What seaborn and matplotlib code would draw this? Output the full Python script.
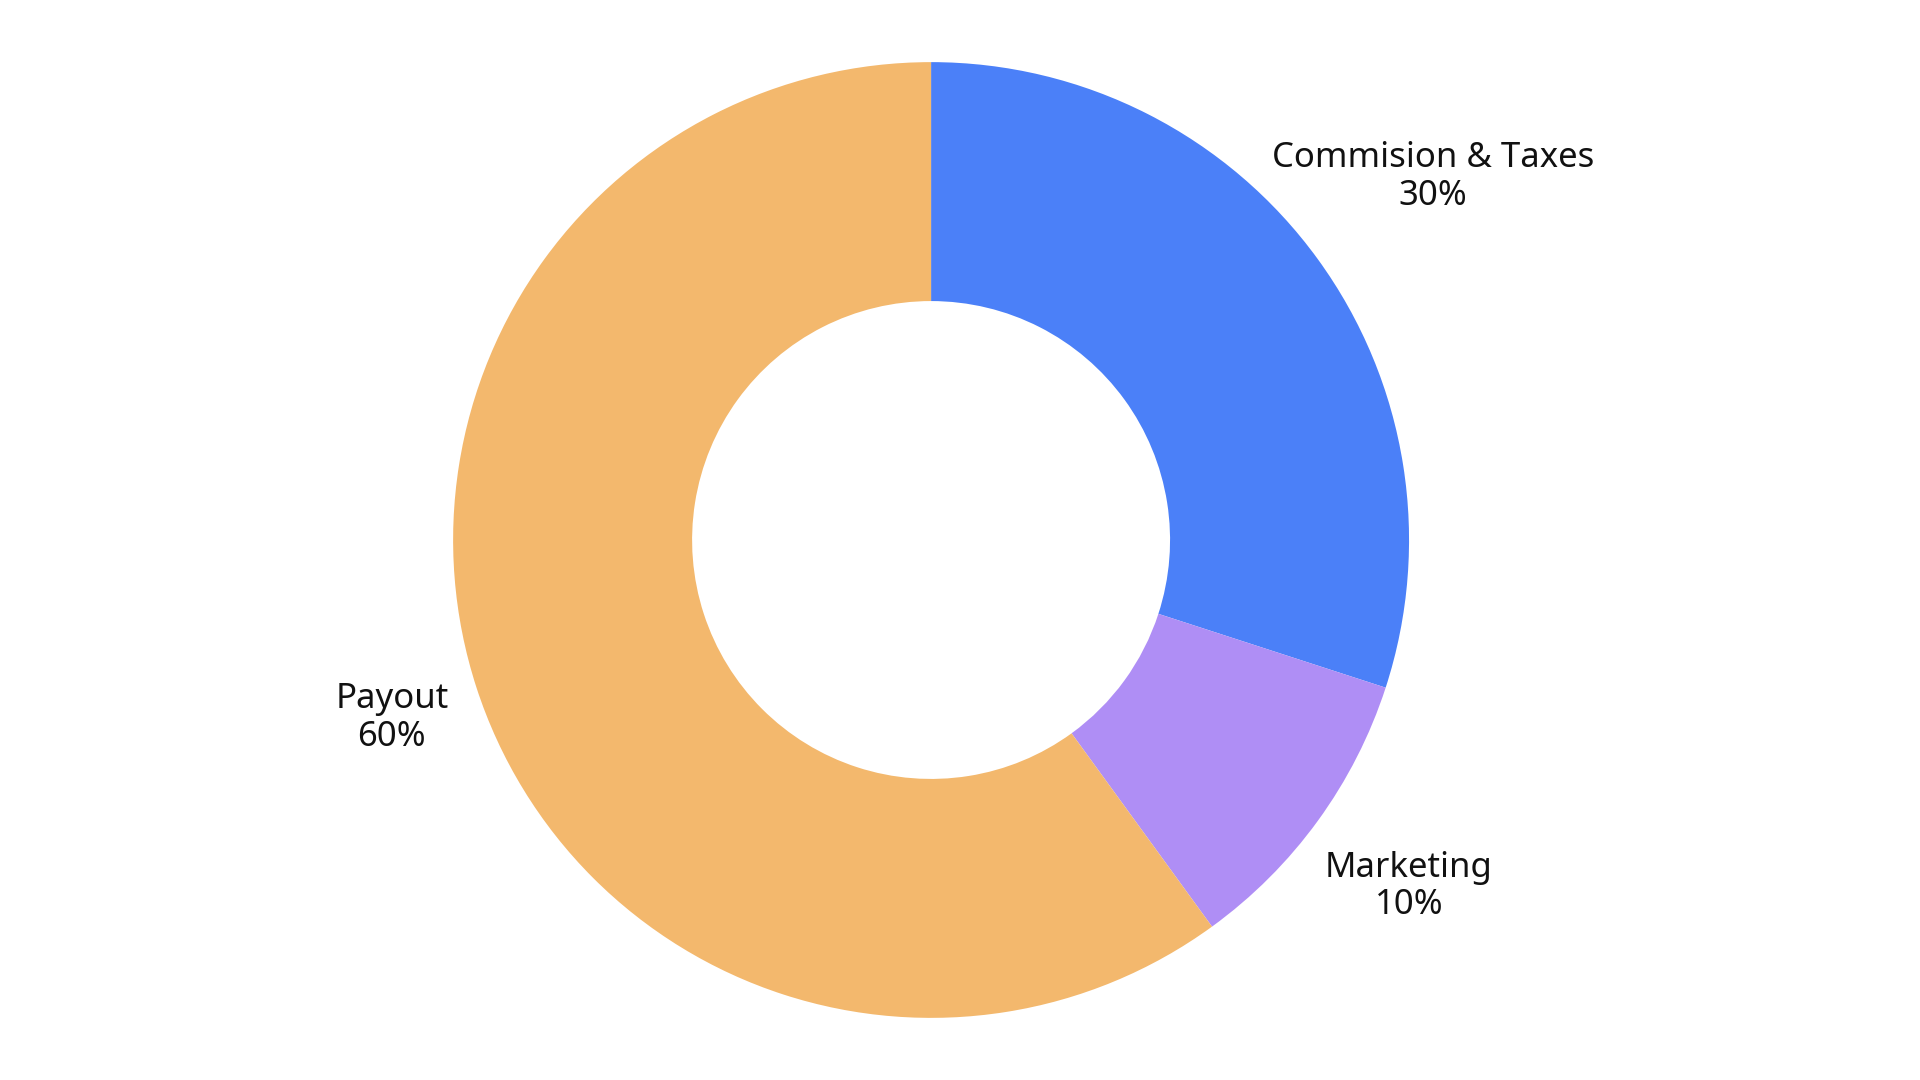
import matplotlib.pyplot as plt
import seaborn as sns

categories = ["Commision & Taxes", "Marketing", "Payout"]
shares = [30, 10, 60]
colors = ["#4B80F8", "#AF8EF5", "#F3B86D"]
# label anchor points, in units of the outer radius
label_pos = [(1.05, 0.76), (1.0, -0.725), (-1.128, -0.373)]

sns.set_theme(style="white")
plt.rcParams['font.family'] = ['Noto Sans', 'DejaVu Sans']

fig = plt.figure(figsize=(19.2, 10.8), dpi=100)
ax = fig.add_axes([0, 0, 1, 1])
ax.pie(shares, colors=colors, startangle=90, counterclock=False,
       wedgeprops=dict(width=0.5, linewidth=0))

for name, val, (x, y) in zip(categories, shares, label_pos):
    ax.text(x, y, f"{name}\n{val}%", ha="center", va="center",
            fontsize=25, color="#111111", linespacing=1.15)

ax.set_aspect("auto")
ax.set_xlim(-1.948, 2.069)
ax.set_ylim(-1.13, 1.13)
ax.axis("off")
fig.savefig("out.png", dpi=100)
